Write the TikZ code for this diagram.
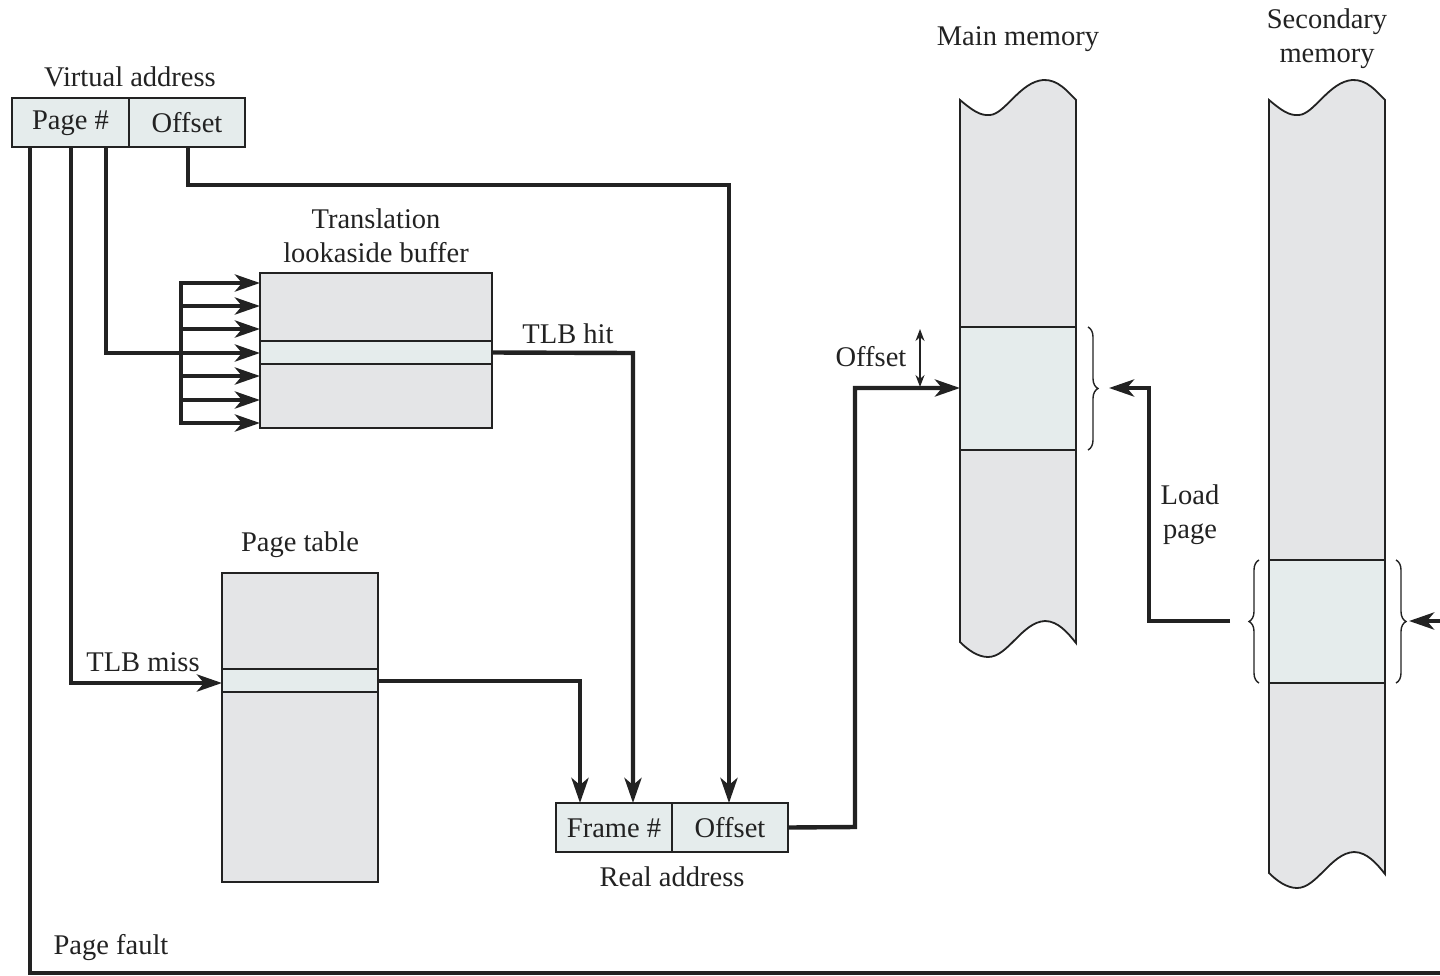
\documentclass[tikz,border=0pt]{standalone}
\usepackage{fontspec}
\setmainfont{Liberation Serif}
\usetikzlibrary{arrows.meta,decorations.pathreplacing}
\definecolor{linec}{HTML}{222222}
\definecolor{boxfill}{HTML}{E4E5E7}
\definecolor{hifill}{HTML}{E5ECEC}
\definecolor{textc}{HTML}{222222}
\tikzset{
  box/.style={draw=linec, line width=2pt, fill=boxfill, inner sep=0pt, outer sep=0pt, anchor=north west},
  hibox/.style={box, fill=hifill},
  conn/.style={line width=4.4pt, draw=linec},
  arr/.style={-{Stealth[length=25pt,width=17pt,inset=7pt]}},
  lab/.style={font=\fontsize{28.5}{34}\selectfont, text=textc, inner sep=0pt, align=center},
  memshape/.style={draw=linec, line width=1.8pt, fill=boxfill},
  bracestyle/.style={draw=linec, line width=1.4pt, decorate, decoration={brace, amplitude=10pt}},
}
\begin{document}
\begin{tikzpicture}[x=1pt,y=-1pt]
\useasboundingbox (0,0) rectangle (1440,975);

% Virtual address
\node[hibox, minimum width=117pt, minimum height=49pt] (vpg) at (12,98) {};
\node[hibox, minimum width=116pt, minimum height=49pt] (voff) at (129,98) {};
\node[lab] (vpgt) at ([yshift=-1pt]vpg.center) {Page \#};
\node[lab] (vofft) at (voff.center) {Offset};
\node[lab] (vlab) at (130,77) {Virtual address};

% TLB
\node[box, minimum width=232pt, minimum height=155pt] (tlb) at (260,273) {};
\node[hibox, minimum width=232pt, minimum height=23pt] (tlbrow) at (260,341) {};
\node[lab] (tlblab) at (376,236) {Translation\\lookaside buffer};

% Page table
\node[box, minimum width=156pt, minimum height=309pt] (pt) at (222,573) {};
\node[hibox, minimum width=156pt, minimum height=23pt] (ptrow) at (222,669) {};
\node[lab] (ptlab) at (300,545) {Page table};

% Real address
\node[hibox, minimum width=116pt, minimum height=49pt] (rfr) at (556,803) {};
\node[hibox, minimum width=116pt, minimum height=49pt] (roff) at (672,803) {};
\node[lab] (rfrt) at ([yshift=-1pt]rfr.center) {Frame \#};
\node[lab] (rofft) at (roff.center) {Offset};
\node[lab] (rlab) at (672,877) {Real address};

% Main memory
\path[memshape] (960,100) .. controls (972,110) and (980,116) .. (990,115)
  .. controls (1005,114) and (1020,82) .. (1043,80)
  .. controls (1058,79) and (1068,92) .. (1076,100)
  -- (1076,643) .. controls (1068,633) and (1058,621) .. (1045,621)
  .. controls (1022,622) and (1008,657) .. (988,657)
  .. controls (978,657) and (968,650) .. (960,642) -- cycle;
\node[hibox, minimum width=116pt, minimum height=123pt] (mblk) at (960,327) {};
\node[lab] (mmlab) at (1018,39) {Main memory};

% Secondary memory
\path[memshape] (1269,100) .. controls (1281,110) and (1289,116) .. (1299,115)
  .. controls (1314,114) and (1329,82) .. (1352,80)
  .. controls (1367,79) and (1377,92) .. (1385,100)
  -- (1385,874) .. controls (1377,864) and (1367,852) .. (1354,852)
  .. controls (1331,853) and (1317,888) .. (1297,888)
  .. controls (1287,888) and (1277,881) .. (1269,873) -- cycle;
\node[hibox, minimum width=116pt, minimum height=123pt] (sblk) at (1269,560) {};
\node[lab] (smlab) at (1327,39) {Secondary\\memory};

% Braces
\draw[bracestyle] (1088,327) -- (1088,450);
\draw[bracestyle] (1259,683) -- (1259,560);
\draw[bracestyle] (1396,560) -- (1396,683);

% Offset path from virtual address
\draw[conn,arr] (voff.south -| 188,0) -- (188,185) -- (729,185) -- (roff.north -| 729,0);

% Page # -> TLB bus
\draw[conn] (vpg.south -| 106,0) -- (106,353) -- (181,353);
\draw[conn] (181,281) -- (181,425);
\foreach \yy/\nm in {283/a,306/b,329/c,353/d,376/e,400/f,423/g}{
  \coordinate (bus\nm) at (179,\yy);
  \draw[conn,arr] (bus\nm) -- (bus\nm -| tlb.west);
}

% TLB hit
\draw[conn,arr] (tlbrow.east) -- (633,353) -- (rfr.north -| 633,0);
\node[lab] (hitlab) at (568,334) {TLB hit};

% TLB miss
\draw[conn,arr] (vpg.south -| 71,0) -- (71,683) -- (ptrow.west |- 0,683);
\node[lab] (misslab) at (143,662) {TLB miss};

% Page table -> frame
\draw[conn,arr] (ptrow.east |- 0,681) -- (580,681) -- (rfr.north -| 580,0);

% Real address -> main memory
\draw[conn,arr] (roff.east) -- (855,827) -- (855,388) -- (mblk.west |- 0,388);

% Offset double arrow
\coordinate (oa1) at (920,329);
\coordinate (oa2) at (920,387);
\draw[line width=1.5pt, draw=linec, {Stealth[length=12pt,width=9pt]}-{Stealth[length=12pt,width=9pt]}] (oa1) -- (oa2);
\node[lab] (offlab) at (871,357) {Offset};

% Load page
\draw[conn,arr] (1230,621) -- (1149,621) -- (1149,388) -- (1109,388);
\node[lab] (loadlab) at (1190,515) {Load\\page};

% Arrow from right edge
\draw[conn,arr] (1445,621) -- (1409,621);

% Page fault
\draw[conn] (vpg.south -| 30,0) -- (30,973) -- (1445,973);
\node[lab] (pflab) at (111,948) {Page fault};
\end{tikzpicture}
\end{document}
